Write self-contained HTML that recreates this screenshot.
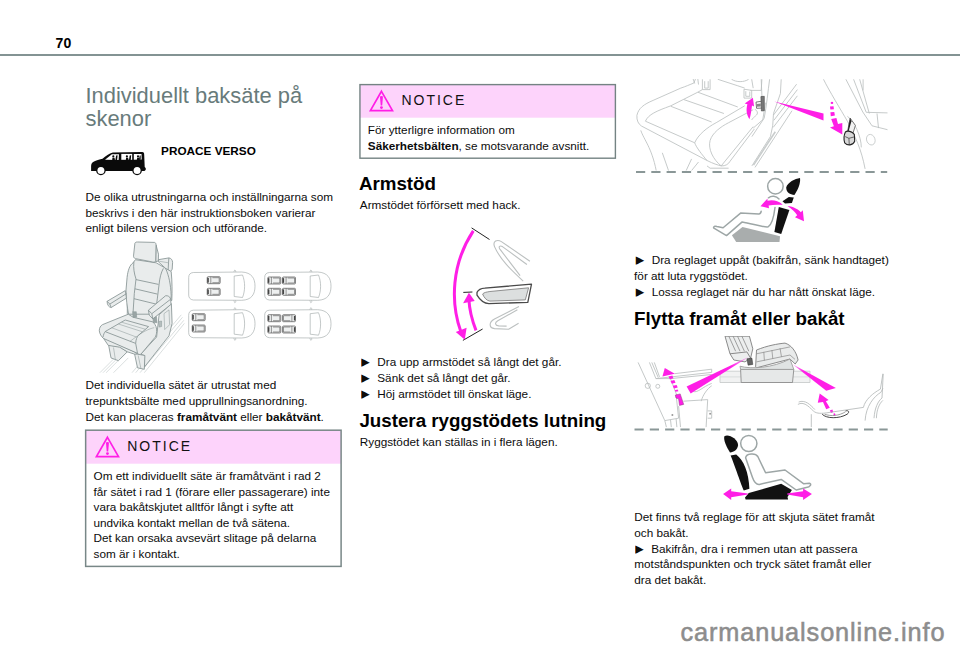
<!DOCTYPE html>
<html lang="sv"><head><meta charset="utf-8"><title>70</title>
<style>
html,body{margin:0;padding:0;background:#fff}
body{width:960px;height:649px;position:relative;overflow:hidden;font-family:"Liberation Sans","DejaVu Sans",sans-serif;color:#0c0c0c}
.t{position:absolute;white-space:nowrap;margin:0}
.a{position:absolute;display:block}
.bd{font-weight:bold;color:#000}
.ttl{color:#687b7b}
.ntc{letter-spacing:2px;color:#111}
.wm{color:#8d8d8d;-webkit-text-stroke:0.55px #8d8d8d}
.b{display:inline-block;width:16.9px;font-size:11px;font-family:"DejaVu Sans",sans-serif;position:relative;top:-0.8px;left:0.9px;transform:scaleY(1.5)}
.hl{position:absolute;left:0;top:53.8px;width:960px;height:2.1px;background:#839393}
</style></head><body>
<div class="hl"></div>
<svg class="a" style="left:0;top:0" width="960" height="649" viewBox="0 0 960 649">
<rect x="85.65" y="430.2" width="255.45" height="33.5" fill="#fdd3fb"/>
<rect x="85.65" y="430.2" width="255.45" height="136.2" fill="none" stroke="#788787" stroke-width="1.5"/>
<rect x="359.95" y="84.6" width="255.45" height="33.1" fill="#fdd3fb"/>
<rect x="359.95" y="84.6" width="255.45" height="73.6" fill="none" stroke="#748383" stroke-width="1.4"/>
</svg>
<svg class="a" style="left:93.7px;top:434.8px" width="27" height="24" viewBox="0 0 27 24"><path d="M13.45 2.3 L24.5 21.65 H2.4 Z" fill="none" stroke="#ff1ee6" stroke-width="1.7" stroke-linejoin="miter"/><path d="M11.95 7.6 q1.5 -1.3 3 0 l-.75 8.9 h-1.5 Z" fill="#ff1ee6"/><circle cx="13.45" cy="18.6" r="1.45" fill="#ff1ee6"/></svg>
<svg class="a" style="left:368px;top:89.2px" width="27" height="24" viewBox="0 0 27 24"><path d="M13.45 2.3 L24.5 21.65 H2.4 Z" fill="none" stroke="#ff1ee6" stroke-width="1.7" stroke-linejoin="miter"/><path d="M11.95 7.6 q1.5 -1.3 3 0 l-.75 8.9 h-1.5 Z" fill="#ff1ee6"/><circle cx="13.45" cy="18.6" r="1.45" fill="#ff1ee6"/></svg>
<svg class="a" style="left:0;top:0" width="960" height="649" viewBox="0 0 960 649">
<path d="M 91.1 171.0 L 91.1 166.2 C 91.3 162.3 93.8 160.7 102.5 158.8 C 105.8 156.3 109.0 153.2 112.8 152.5 L 142.3 152.1 C 143.8 152.2 144.2 153.2 144.2 154.7 L 144.7 167.1 C 146.3 167.9 146.3 170.7 144.2 171.1 Z" fill="#0a0a0a"/>
<circle cx="100.9" cy="170.4" r="4.83" fill="#0a0a0a"/>
<circle cx="100.9" cy="170.4" r="3.50" fill="#fff"/>
<circle cx="137.1" cy="170.4" r="4.83" fill="#0a0a0a"/>
<circle cx="137.1" cy="170.4" r="3.50" fill="#fff"/>
<path d="M 105.0 159.8 L 111.9 154.3 L 119.0 154.2 L 118.6 160.0 Z" fill="#fff"/>
<path d="M 121.3 153.9 L 132.2 153.9 L 132.2 159.8 L 121.3 159.8 Z" fill="#fff"/>
<path d="M 133.8 153.9 L 141.5 153.9 L 141.7 159.6 L 133.8 159.7 Z" fill="#fff"/>
<circle cx="113.3" cy="156.4" r="1.08" fill="#0a0a0a"/>
<path d="M 112.2 160.0 L 112.5 157.7 L 114.5 157.7 L 115.0 160.0 Z" fill="#0a0a0a"/>
<circle cx="126.9" cy="156.4" r="1.08" fill="#0a0a0a"/>
<path d="M 125.8 160.0 L 126.1 157.7 L 128.1 157.7 L 128.6 160.0 Z" fill="#0a0a0a"/>
<circle cx="138.0" cy="156.4" r="1.08" fill="#0a0a0a"/>
<path d="M 136.8 160.0 L 137.2 157.7 L 139.2 157.7 L 139.7 160.0 Z" fill="#0a0a0a"/>
<path d="M 116.1 155.4 L 117.6 155.2 L 117.1 160.0 L 115.4 160.0 Z" fill="#0a0a0a"/>
<path d="M 129.7 155.4 L 131.2 155.2 L 130.7 160.0 L 129.0 160.0 Z" fill="#0a0a0a"/>
<path d="M 139.7 155.4 L 140.7 155.4 L 140.7 159.7 L 139.0 159.7 Z" fill="#0a0a0a"/>
<path d="M 99.9 372.7 L 118.4 354.2" fill="none" stroke="#b5bebe" stroke-width="0.5" stroke-linejoin="round"/>
<path d="M 103.0 372.7 L 121.5 354.2" fill="none" stroke="#b5bebe" stroke-width="0.5" stroke-linejoin="round"/>
<path d="M 106.1 372.7 L 125.8 353.0" fill="none" stroke="#b5bebe" stroke-width="0.5" stroke-linejoin="round"/>
<path d="M 113.5 372.7 L 128.3 357.9" fill="none" stroke="#b5bebe" stroke-width="0.5" stroke-linejoin="round"/>
<path d="M 132.0 372.7 L 181.3 314.8" fill="none" stroke="#b5bebe" stroke-width="0.5" stroke-linejoin="round"/>
<path d="M 135.7 372.7 L 182.5 317.3" fill="none" stroke="#b5bebe" stroke-width="0.5" stroke-linejoin="round"/>
<path d="M 140.0 372.7 L 183.8 320.3" fill="none" stroke="#b5bebe" stroke-width="0.5" stroke-linejoin="round"/>
<path d="M 144.3 372.7 L 184.4 323.4" fill="none" stroke="#b5bebe" stroke-width="0.5" stroke-linejoin="round"/>
<path d="M 158.3 259.7 L 168.9 257.9 C 171.2 258.2 172.4 260.0 172.6 262.3 L 172.2 269.2 C 171.2 271.5 169.5 272.4 168.0 272.7 L 165.5 268.3 L 158.3 261.7 Z" fill="#e9ecec" stroke="#869494" stroke-width="0.85" stroke-linejoin="round"/>
<path d="M 168.0 272.7 L 168.5 262.8 L 168.9 257.9" fill="none" stroke="#869494" stroke-width="0.85" stroke-linejoin="round"/>
<path d="M 158.3 261.1 L 168.5 262.8" fill="none" stroke="#869494" stroke-width="0.5" stroke-linejoin="round"/>
<path d="M 165.5 268.3 L 171.2 271.5 C 172.2 281.9 172.2 291.1 171.8 300.4 L 164.3 302.7 Z" fill="#e9ecec" stroke="#869494" stroke-width="0.85" stroke-linejoin="round"/>
<path d="M 127.3 303.7 L 127.3 313.6 L 132.0 318.5 L 154.2 323.4 L 156.6 313.6 L 154.2 297.5 L 128.3 297.5 Z" fill="#e9ecec" stroke="none" stroke-width="0.85" stroke-linejoin="round"/>
<path d="M 127.3 303.7 L 127.3 313.6 L 132.0 318.5" fill="none" stroke="#869494" stroke-width="0.85" stroke-linejoin="round"/>
<path d="M 132.0 298.8 L 132.0 312.3" fill="none" stroke="#869494" stroke-width="0.5" stroke-linejoin="round"/>
<path d="M 153.9 307.4 L 152.9 317.3" fill="none" stroke="#869494" stroke-width="0.5" stroke-linejoin="round"/>
<path d="M 133.1 262.8 L 135.4 259.7 L 156.2 262.8 L 164.3 267.5 L 166.0 269.2 C 168.9 276.1 170.7 284.2 171.2 295.8 L 170.7 300.4 L 152.8 314.2 L 128.5 314.2 C 127.1 306.2 126.0 298.1 126.0 290.0 L 127.1 277.3 C 127.9 270.3 129.7 265.1 133.1 262.8 Z" fill="#e9ecec" stroke="#869494" stroke-width="0.85" stroke-linejoin="round"/>
<path d="M 133.9 261.7 C 133.1 268.0 134.3 273.8 136.0 279.0 L 134.3 293.5 L 133.1 311.9" fill="none" stroke="#869494" stroke-width="0.85" stroke-linejoin="round"/>
<path d="M 163.4 268.3 C 160.9 272.7 159.7 278.4 159.1 284.2 L 157.4 298.1 L 156.0 308.5" fill="none" stroke="#869494" stroke-width="0.85" stroke-linejoin="round"/>
<path d="M 136.0 279.6 L 158.5 284.4" fill="none" stroke="#869494" stroke-width="0.85" stroke-linejoin="round"/>
<path d="M 134.9 288.8 L 157.4 294.1" fill="none" stroke="#869494" stroke-width="0.85" stroke-linejoin="round"/>
<path d="M 134.0 298.7 L 156.2 304.1" fill="none" stroke="#869494" stroke-width="0.85" stroke-linejoin="round"/>
<path d="M 156.0 244.9 L 158.5 254.2 L 158.3 260.9 L 155.7 261.7 Z" fill="#e9ecec" stroke="#869494" stroke-width="0.85" stroke-linejoin="round"/>
<path d="M 134.9 243.2 C 135.4 242.0 136.6 242.0 137.7 242.0 L 154.5 242.4 C 155.7 242.6 156.0 243.8 156.0 244.9 L 155.7 261.1 C 155.1 262.0 153.9 262.3 152.8 262.0 L 135.4 258.6 C 134.0 258.2 133.5 257.1 133.5 255.9 Z" fill="#e9ecec" stroke="#869494" stroke-width="0.85" stroke-linejoin="round"/>
<path d="M 140.6 354.2 L 156.6 337.0 L 159.1 314.8 L 171.4 303.7 L 172.1 323.4 L 169.0 335.8 L 144.3 367.2 L 144.3 355.5 Z" fill="#e9ecec" stroke="#869494" stroke-width="0.85" stroke-linejoin="round"/>
<path d="M 164.0 313.6 L 169.0 309.9 L 169.6 324.7 L 164.7 329.6 Z" fill="#e9ecec" stroke="#869494" stroke-width="0.5" stroke-linejoin="round"/>
<path d="M 108.6 345.0 L 111.0 357.9 L 118.4 360.7 L 127.3 351.8 L 119.7 346.8 Z" fill="#e9ecec" stroke="#869494" stroke-width="0.85" stroke-linejoin="round"/>
<path d="M 113.5 347.5 L 115.3 359.2" fill="none" stroke="#869494" stroke-width="0.5" stroke-linejoin="round"/>
<path d="M 134.5 353.6 L 137.5 367.8 L 144.3 369.3 L 144.9 355.5 Z" fill="#e9ecec" stroke="#869494" stroke-width="0.85" stroke-linejoin="round"/>
<path d="M 138.2 355.5 L 140.9 368.4" fill="none" stroke="#869494" stroke-width="0.5" stroke-linejoin="round"/>
<path d="M 102.6 337.0 L 108.3 345.4 L 119.7 347.2 L 127.3 351.8 L 134.7 354.2 L 137.9 353.5 Z" fill="#e9ecec" stroke="#869494" stroke-width="0.85" stroke-linejoin="round"/>
<path d="M 99.3 330.8 C 99.3 327.7 100.5 325.9 102.4 324.7 L 128.3 314.2 L 133.2 317.3 L 152.9 321.9 C 156.0 324.7 156.9 328.4 156.6 331.4 C 156.6 333.9 156.0 335.8 155.2 337.2 L 140.9 354.2 C 139.4 354.9 138.2 354.2 137.5 353.3 L 103.6 338.5 C 101.2 336.4 99.7 333.9 99.3 330.8 Z" fill="#e9ecec" stroke="#869494" stroke-width="0.85" stroke-linejoin="round"/>
<path d="M 103.0 337.0 C 103.6 334.5 104.2 332.7 105.1 331.6 L 125.2 320.0 L 148.6 326.6" fill="none" stroke="#869494" stroke-width="0.85" stroke-linejoin="round"/>
<path d="M 105.1 331.6 L 135.7 343.4 C 135.9 339.5 136.9 337.0 138.2 335.5 L 148.6 326.6" fill="none" stroke="#869494" stroke-width="0.85" stroke-linejoin="round"/>
<path d="M 135.7 343.4 L 137.5 353.3" fill="none" stroke="#869494" stroke-width="0.85" stroke-linejoin="round"/>
<path d="M 138.2 335.5 C 144.3 330.8 150.5 328.4 154.2 327.7" fill="none" stroke="#869494" stroke-width="0.5" stroke-linejoin="round"/>
<path d="M 118.4 324.0 L 142.5 331.8" fill="none" stroke="#869494" stroke-width="0.5" stroke-linejoin="round"/>
<path d="M 121.5 322.2 L 145.5 329.3" fill="none" stroke="#869494" stroke-width="0.5" stroke-linejoin="round"/>
<path d="M 111.6 327.7 L 136.3 337.0" fill="none" stroke="#869494" stroke-width="0.5" stroke-linejoin="round"/>
<path d="M 130.1 341.3 L 137.5 335.8" fill="none" stroke="#869494" stroke-width="0.5" stroke-linejoin="round"/>
<path d="M 132.6 311.7 L 136.3 311.7 L 136.7 317.3 L 133.0 317.3 Z" fill="#9aa5a5" stroke="#869494" stroke-width="0.5" stroke-linejoin="round"/>
<path d="M 152.9 316.6 L 156.6 316.6 L 157.0 322.8 L 153.3 322.8 Z" fill="#9aa5a5" stroke="#869494" stroke-width="0.5" stroke-linejoin="round"/>
<path d="M 158.5 321.6 L 161.6 321.0 L 161.6 326.5 L 159.1 327.1 Z" fill="#b5bebe" stroke="#869494" stroke-width="0.5" stroke-linejoin="round"/>
<path d="M 107.1 301.3 L 125.3 290.6 L 126.4 298.1 L 111.2 307.5 C 108.9 307.3 107.1 305.0 107.1 301.3 Z" fill="#e9ecec" stroke="#869494" stroke-width="0.85" stroke-linejoin="round"/>
<path d="M 107.1 301.3 L 109.8 304.1 L 126.4 293.7" fill="none" stroke="#869494" stroke-width="0.85" stroke-linejoin="round"/>
<path d="M 109.8 304.1 L 111.2 307.5" fill="none" stroke="#869494" stroke-width="0.85" stroke-linejoin="round"/>
<path d="M 148.4 310.2 L 165.5 295.8 C 167.8 295.2 170.1 296.9 170.7 299.2 L 171.0 304.4 L 152.8 318.9 L 149.3 315.2 Z" fill="#e9ecec" stroke="#869494" stroke-width="0.85" stroke-linejoin="round"/>
<path d="M 148.4 310.2 L 151.8 313.7 L 170.7 299.2" fill="none" stroke="#869494" stroke-width="0.85" stroke-linejoin="round"/>
<path d="M 151.8 313.7 L 152.8 318.9" fill="none" stroke="#869494" stroke-width="0.85" stroke-linejoin="round"/>
<path d="M 193.3 272.5 L 241.7 272.0 C 251.7 272.5 255.0 278.3 255.0 286.2 C 255.0 294.2 251.7 300.0 241.7 300.3 L 193.3 300.0 C 190.0 299.7 188.7 297.5 188.7 295.0 L 188.7 277.5 C 188.7 274.7 190.0 272.8 193.3 272.5 Z" fill="#fff" stroke="#a9b0b0" stroke-width="0.7"/>
<path d="M 234.2 276.0 L 242.5 275.0 C 245.3 281.7 245.3 290.8 242.5 297.5 L 234.2 296.5 Z" fill="#fff" stroke="#a9b0b0" stroke-width="0.7"/>
<path d="M 233.8 272.0 L 234.7 270.0 L 236.0 271.0 L 235.5 272.0 M 233.8 300.3 L 234.7 302.7 L 236.0 301.7 L 235.5 300.3" fill="none" stroke="#a9b0b0" stroke-width="0.6"/>
<rect x="207.2" y="276.7" width="13.0" height="7.0" rx="1" fill="#eef0f0" stroke="#555" stroke-width="0.7"/>
<path d="M207.7,277.3 v5.8 M210.8,276.7 v7.0 M212.4,277.7 h6.8 v5.0 h-6.8" fill="none" stroke="#555" stroke-width="0.6"/>
<path d="M208.1,277.9 v4.6" stroke="#444" stroke-width="1.4"/>
<rect x="207.2" y="288.3" width="13.0" height="7.0" rx="1" fill="#eef0f0" stroke="#555" stroke-width="0.7"/>
<path d="M207.7,288.9 v5.8 M210.8,288.3 v7.0 M212.4,289.3 h6.8 v5.0 h-6.8" fill="none" stroke="#555" stroke-width="0.6"/>
<path d="M208.1,289.5 v4.6" stroke="#444" stroke-width="1.4"/>
<path d="M 269.3 272.5 L 317.7 272.0 C 327.7 272.5 331.0 278.3 331.0 286.2 C 331.0 294.2 327.7 300.0 317.7 300.3 L 269.3 300.0 C 266.0 299.7 264.7 297.5 264.7 295.0 L 264.7 277.5 C 264.7 274.7 266.0 272.8 269.3 272.5 Z" fill="#fff" stroke="#a9b0b0" stroke-width="0.7"/>
<path d="M 310.2 276.0 L 318.5 275.0 C 321.3 281.7 321.3 290.8 318.5 297.5 L 310.2 296.5 Z" fill="#fff" stroke="#a9b0b0" stroke-width="0.7"/>
<path d="M 309.8 272.0 L 310.7 270.0 L 312.0 271.0 L 311.5 272.0 M 309.8 300.3 L 310.7 302.7 L 312.0 301.7 L 311.5 300.3" fill="none" stroke="#a9b0b0" stroke-width="0.6"/>
<rect x="267.8" y="277.0" width="13.0" height="7.0" rx="1" fill="#eef0f0" stroke="#555" stroke-width="0.7"/>
<path d="M268.3,277.6 v5.8 M271.4,277.0 v7.0 M273.0,278.0 h6.8 v5.0 h-6.8" fill="none" stroke="#555" stroke-width="0.6"/>
<path d="M268.7,278.2 v4.6" stroke="#444" stroke-width="1.4"/>
<rect x="267.8" y="288.3" width="13.0" height="7.0" rx="1" fill="#eef0f0" stroke="#555" stroke-width="0.7"/>
<path d="M268.3,288.9 v5.8 M271.4,288.3 v7.0 M273.0,289.3 h6.8 v5.0 h-6.8" fill="none" stroke="#555" stroke-width="0.6"/>
<path d="M268.7,289.5 v4.6" stroke="#444" stroke-width="1.4"/>
<rect x="282.5" y="277.0" width="13.0" height="7.0" rx="1" fill="#eef0f0" stroke="#555" stroke-width="0.7"/>
<path d="M283.0,277.6 v5.8 M286.1,277.0 v7.0 M287.7,278.0 h6.8 v5.0 h-6.8" fill="none" stroke="#555" stroke-width="0.6"/>
<path d="M283.4,278.2 v4.6" stroke="#444" stroke-width="1.4"/>
<rect x="282.5" y="288.3" width="13.0" height="7.0" rx="1" fill="#eef0f0" stroke="#555" stroke-width="0.7"/>
<path d="M283.0,288.9 v5.8 M286.1,288.3 v7.0 M287.7,289.3 h6.8 v5.0 h-6.8" fill="none" stroke="#555" stroke-width="0.6"/>
<path d="M283.4,289.5 v4.6" stroke="#444" stroke-width="1.4"/>
<path d="M 193.3 310.2 L 241.7 309.7 C 251.7 310.2 255.0 316.0 255.0 323.8 C 255.0 331.8 251.7 337.7 241.7 338.0 L 193.3 337.7 C 190.0 337.3 188.7 335.2 188.7 332.7 L 188.7 315.2 C 188.7 312.3 190.0 310.5 193.3 310.2 Z" fill="#fff" stroke="#a9b0b0" stroke-width="0.7"/>
<path d="M 234.2 313.7 L 242.5 312.7 C 245.3 319.3 245.3 328.5 242.5 335.2 L 234.2 334.2 Z" fill="#fff" stroke="#a9b0b0" stroke-width="0.7"/>
<path d="M 233.8 309.7 L 234.7 307.7 L 236.0 308.7 L 235.5 309.7 M 233.8 338.0 L 234.7 340.3 L 236.0 339.3 L 235.5 338.0" fill="none" stroke="#a9b0b0" stroke-width="0.6"/>
<rect x="192.2" y="313.7" width="13.0" height="7.0" rx="1" fill="#eef0f0" stroke="#555" stroke-width="0.7"/>
<path d="M192.7,314.3 v5.8 M195.8,313.7 v7.0 M197.4,314.7 h6.8 v5.0 h-6.8" fill="none" stroke="#555" stroke-width="0.6"/>
<path d="M193.1,314.9 v4.6" stroke="#444" stroke-width="1.4"/>
<rect x="192.2" y="325.0" width="13.0" height="7.0" rx="1" fill="#eef0f0" stroke="#555" stroke-width="0.7"/>
<path d="M192.7,325.6 v5.8 M195.8,325.0 v7.0 M197.4,326.0 h6.8 v5.0 h-6.8" fill="none" stroke="#555" stroke-width="0.6"/>
<path d="M193.1,326.2 v4.6" stroke="#444" stroke-width="1.4"/>
<path d="M 269.3 310.2 L 317.7 309.7 C 327.7 310.2 331.0 316.0 331.0 323.8 C 331.0 331.8 327.7 337.7 317.7 338.0 L 269.3 337.7 C 266.0 337.3 264.7 335.2 264.7 332.7 L 264.7 315.2 C 264.7 312.3 266.0 310.5 269.3 310.2 Z" fill="#fff" stroke="#a9b0b0" stroke-width="0.7"/>
<path d="M 310.2 313.7 L 318.5 312.7 C 321.3 319.3 321.3 328.5 318.5 335.2 L 310.2 334.2 Z" fill="#fff" stroke="#a9b0b0" stroke-width="0.7"/>
<path d="M 309.8 309.7 L 310.7 307.7 L 312.0 308.7 L 311.5 309.7 M 309.8 338.0 L 310.7 340.3 L 312.0 339.3 L 311.5 338.0" fill="none" stroke="#a9b0b0" stroke-width="0.6"/>
<rect x="267.8" y="314.7" width="13.0" height="7.0" rx="1" fill="#eef0f0" stroke="#555" stroke-width="0.7"/>
<path d="M268.3,315.3 v5.8 M271.4,314.7 v7.0 M273.0,315.7 h6.8 v5.0 h-6.8" fill="none" stroke="#555" stroke-width="0.6"/>
<path d="M268.7,315.9 v4.6" stroke="#444" stroke-width="1.4"/>
<rect x="267.8" y="326.0" width="13.0" height="7.0" rx="1" fill="#eef0f0" stroke="#555" stroke-width="0.7"/>
<path d="M268.3,326.6 v5.8 M271.4,326.0 v7.0 M273.0,327.0 h6.8 v5.0 h-6.8" fill="none" stroke="#555" stroke-width="0.6"/>
<path d="M268.7,327.2 v4.6" stroke="#444" stroke-width="1.4"/>
<rect x="282.5" y="314.7" width="13.0" height="7.0" rx="1" fill="#eef0f0" stroke="#555" stroke-width="0.7"/>
<path d="M291.9,314.7 v7.0 M290.3,315.7 h-6.8 v5.0 h6.8" fill="none" stroke="#555" stroke-width="0.6"/>
<path d="M294.6,315.9 v4.6" stroke="#444" stroke-width="1.4"/>
<rect x="282.5" y="326.0" width="13.0" height="7.0" rx="1" fill="#eef0f0" stroke="#555" stroke-width="0.7"/>
<path d="M291.9,326.0 v7.0 M290.3,327.0 h-6.8 v5.0 h6.8" fill="none" stroke="#555" stroke-width="0.6"/>
<path d="M294.6,327.2 v4.6" stroke="#444" stroke-width="1.4"/>
<path d="M 529.9 261.2 L 501.4 241.6 C 497.2 239.1 492.4 241.0 494.5 246.6 C 500.3 259.7 510.7 269.5 523.2 281.1" fill="none" stroke="#bcc0c0" stroke-width="1.1" stroke-linecap="butt" stroke-linejoin="round" />
<path d="M 526.9 264.5 L 502.4 246.6 C 499.9 245.2 498.2 246.6 499.9 249.1 L 520.1 275.7" fill="none" stroke="#bcc0c0" stroke-width="1.1" stroke-linecap="butt" stroke-linejoin="round" />
<path d="M 519.0 306.5 L 494.5 319.0 C 488.3 322.5 489.1 327.9 494.5 328.6 L 508.6 329.2 L 518.6 323.2" fill="none" stroke="#bcc0c0" stroke-width="1.1" stroke-linecap="butt" stroke-linejoin="round" />
<path d="M 517.4 309.8 L 497.8 320.7 C 494.5 322.7 494.9 325.4 498.7 325.9 L 506.6 326.1" fill="none" stroke="#bcc0c0" stroke-width="1.1" stroke-linecap="butt" stroke-linejoin="round" />
<path d="M 477.0 292.4 C 478.5 289.5 481.6 288.4 484.7 288.2 L 531.5 284.1 L 527.8 302.4 L 488.9 303.6 C 483.7 303.4 479.5 299.2 477.0 295.1 Z" fill="#fff" stroke="#4a4a4a" stroke-width="1.3" stroke-linecap="butt" stroke-linejoin="round" />
<path d="M 482.6 294.0 C 484.1 292.4 486.8 292.0 489.9 291.5 L 528.6 287.8 L 525.3 299.9 L 489.9 301.1 C 486.8 300.7 484.1 297.8 482.6 294.0 Z" fill="#dcdfdf" stroke="#777" stroke-width="0.8" stroke-linecap="butt" stroke-linejoin="round" />
<path d="M 471.6 227.9 L 489.5 239.5" fill="none" stroke="#222" stroke-width="1" stroke-linecap="butt" stroke-linejoin="round" />
<path d="M 462.9 340.4 L 482.6 329.0" fill="none" stroke="#222" stroke-width="1" stroke-linecap="butt" stroke-linejoin="round" />
<path d="M 463.3 292.4 L 472.4 292.0" fill="none" stroke="#222" stroke-width="1" stroke-linecap="butt" stroke-linejoin="round" />
<path d="M 473.3 230.8 C 451.4 263.9 450.4 302.4 460.8 331.5" fill="none" stroke="#ff1ee6" stroke-width="3" stroke-linecap="butt" stroke-linejoin="round" />
<path d="M 455.8 331.9 L 466.6 327.7 L 464.8 339.8 Z" fill="#ff1ee6" stroke="none" stroke-width="1.1" stroke-linecap="butt" stroke-linejoin="round" />
<path d="M 476.0 330.4 C 471.6 319.0 469.3 308.6 468.9 299.2" fill="none" stroke="#ff1ee6" stroke-width="3" stroke-linecap="butt" stroke-linejoin="round" />
<path d="M 463.1 303.2 L 468.9 292.8 L 474.7 300.9 Z" fill="#ff1ee6" stroke="none" stroke-width="1.1" stroke-linecap="butt" stroke-linejoin="round" />
<path d="M636.0,171.9 H887.2" stroke="#8a9797" stroke-width="2" stroke-dasharray="9.2 6.1" fill="none"/>
<path d="M634.5,429.6 H887.7" stroke="#8a9797" stroke-width="2" stroke-dasharray="9.2 6.1" fill="none"/>
<path d="M 731.9 235.2 L 742.5 226.9 L 780.0 236.2 L 779.5 242.0 L 736.2 242.0 Z" fill="#a9adad" stroke="none" stroke-width="1" stroke-linejoin="round" stroke-linecap="round"/>
<circle cx="775.4" cy="186.2" r="7.75" fill="#fff" stroke="#9da6a6" stroke-width="1.5"/>
<path d="M 768.5 197.8 C 771.2 195.6 776.2 195.6 779.0 199.0 M 775.0 207.5 C 773.8 217.5 771.2 225.0 768.1 226.9 C 765.0 227.8 752.5 223.8 742.2 221.9 L 726.5 235.6 L 713.5 227.8 C 713.8 226.0 715.6 226.0 716.9 226.5 L 723.1 227.8 L 740.6 213.1 L 758.8 214.0 C 760.0 214.0 761.0 213.1 761.2 211.2" fill="none" stroke="#9da6a6" stroke-width="1.5" stroke-linejoin="round" stroke-linecap="round"/>
<path d="M 800.0 178.1 C 795.0 178.8 787.5 182.5 786.2 187.5 C 786.2 192.5 790.0 194.4 794.4 195.0 C 798.8 188.8 800.6 182.5 800.0 178.1 Z" fill="#111" stroke="none" stroke-width="1" stroke-linejoin="round" stroke-linecap="round"/>
<path d="M 782.5 201.2 L 788.8 196.9 L 793.8 197.5 L 791.9 203.1 L 785.0 203.5 Z" fill="#111" stroke="none" stroke-width="1" stroke-linejoin="round" stroke-linecap="round"/>
<path d="M 778.8 206.9 L 789.4 210.0 L 781.2 234.0 L 774.4 232.0 Z" fill="#111" stroke="none" stroke-width="1" stroke-linejoin="round" stroke-linecap="round"/>
<path d="M 782.8 204.8 C 777.5 200.0 771.9 199.8 767.5 200.8 L 767.5 198.5 L 760.5 206.2 L 769.0 208.2 L 768.6 205.5 C 773.1 204.5 777.5 204.8 782.8 204.8 Z" fill="#ff1ee6" stroke="none" stroke-width="1" stroke-linejoin="round" stroke-linecap="round"/>
<path d="M 787.5 206.0 C 793.8 206.5 798.8 209.8 800.8 212.2 L 802.8 210.2 L 804.0 221.2 L 795.0 217.2 L 797.2 215.2 C 795.0 211.9 791.9 209.0 787.5 206.0 Z" fill="#ff1ee6" stroke="none" stroke-width="1" stroke-linejoin="round" stroke-linecap="round"/>
<path d="M 724.4 436.2 C 728.8 433.8 737.5 438.8 738.1 445.0 C 737.5 450.0 733.8 451.9 730.0 452.5 C 726.9 447.5 723.1 440.0 724.4 436.2 Z" fill="#111" stroke="none" stroke-width="1" stroke-linejoin="round" stroke-linecap="round"/>
<path d="M 730.6 455.6 L 736.2 454.4 C 743.8 460.0 748.8 472.5 749.4 488.8 L 743.8 490.6 C 741.2 485.0 735.0 466.2 730.6 455.6 Z" fill="#111" stroke="none" stroke-width="1" stroke-linejoin="round" stroke-linecap="round"/>
<path d="M 748.8 493.1 L 781.2 483.8 L 791.9 490.0 L 787.5 496.9 L 788.1 499.5 L 745.6 499.5 L 745.0 497.5 Z" fill="#111" stroke="none" stroke-width="1" stroke-linejoin="round" stroke-linecap="round"/>
<circle cx="748.8" cy="443.5" r="8.12" fill="#fff" stroke="#9da6a6" stroke-width="1.5"/>
<path d="M 745.6 457.8 C 746.2 453.1 755.6 452.8 757.8 456.5 L 765.6 472.8 L 785.0 470.0 L 803.8 483.8 L 809.4 483.2 C 811.9 483.8 810.6 487.2 806.2 487.5 L 796.2 490.0 L 781.2 479.4 L 759.4 484.4 C 755.6 484.8 753.8 481.2 752.5 477.5 Z" fill="#fff" stroke="#9da6a6" stroke-width="1.5" stroke-linejoin="round" stroke-linecap="round"/>
<path d="M 723.1 494.1 L 731.2 488.5 L 731.2 491.2 L 747.8 493.4 L 747.8 494.6 L 731.2 497.2 L 731.2 500.0 Z" fill="#ff1ee6" stroke="none" stroke-width="1" stroke-linejoin="round" stroke-linecap="round"/>
<path d="M 811.9 494.1 L 803.1 488.5 L 803.1 491.2 L 787.2 493.4 L 787.2 494.6 L 803.1 497.2 L 803.1 500.0 Z" fill="#ff1ee6" stroke="none" stroke-width="1" stroke-linejoin="round" stroke-linecap="round"/>
<clipPath id="c3a"><rect x="634" y="79" width="257" height="92"/></clipPath><g clip-path="url(#c3a)">
<path d="M 636.9 115.4 C 638.5 108.1 643.9 104.3 653.1 100.4 L 680.8 88.1 C 685.4 86.6 690.1 84.5 693.9 83.0 L 695.5 78.9" fill="none" stroke="#bcc1c1" stroke-width="0.85" stroke-linejoin="round" />
<path d="M 636.9 115.4 C 636.5 120.4 638.5 124.3 641.6 126.1 L 707.0 160.5 C 713.2 163.6 717.8 165.1 721.2 165.9 L 753.2 126.6" fill="none" stroke="#bcc1c1" stroke-width="0.85" stroke-linejoin="round" />
<path d="M 645.4 121.2 C 648.5 114.3 656.2 111.2 670.8 105.8 L 697.8 92.2 L 702.4 89.6" fill="none" stroke="#bcc1c1" stroke-width="0.85" stroke-linejoin="round" />
<path d="M 645.4 121.2 L 694.7 142.8" fill="none" stroke="#bcc1c1" stroke-width="0.85" stroke-linejoin="round" />
<path d="M 670.8 106.3 L 711.6 122.0" fill="none" stroke="#bcc1c1" stroke-width="0.85" stroke-linejoin="round" />
<path d="M 683.9 99.6 L 723.9 113.5" fill="none" stroke="#bcc1c1" stroke-width="0.85" stroke-linejoin="round" />
<path d="M 697.8 92.2 L 737.8 107.0" fill="none" stroke="#bcc1c1" stroke-width="0.85" stroke-linejoin="round" />
<path d="M 694.7 142.8 C 697.8 135.1 707.0 127.4 716.2 122.7 L 744.7 105.8" fill="none" stroke="#bcc1c1" stroke-width="0.85" stroke-linejoin="round" />
<path d="M 694.7 142.8 C 696.2 147.4 702.4 155.1 707.0 160.5" fill="none" stroke="#bcc1c1" stroke-width="0.85" stroke-linejoin="round" />
<path d="M 710.1 140.5 C 712.4 132.8 720.9 126.6 728.6 122.7 L 753.2 109.7" fill="none" stroke="#bcc1c1" stroke-width="0.85" stroke-linejoin="round" />
<path d="M 710.1 140.5 C 707.8 148.9 713.2 159.7 721.2 165.9" fill="none" stroke="#bcc1c1" stroke-width="0.85" stroke-linejoin="round" />
<path d="M 640.8 130.4 C 643.9 139.7 651.6 147.4 656.2 170.5" fill="none" stroke="#bcc1c1" stroke-width="0.85" stroke-linejoin="round" />
<path d="M 662.3 152.8 L 668.5 170.5" fill="none" stroke="#bcc1c1" stroke-width="0.85" stroke-linejoin="round" />
<path d="M 691.6 158.9 L 686.2 170.5" fill="none" stroke="#bcc1c1" stroke-width="0.85" stroke-linejoin="round" />
<path d="M 698.5 162.0 L 691.6 170.5" fill="none" stroke="#bcc1c1" stroke-width="0.85" stroke-linejoin="round" />
<path d="M 721.2 165.9 C 725.5 166.2 728.6 164.0 730.1 161.2 L 754.4 128.9" fill="none" stroke="#bcc1c1" stroke-width="0.85" stroke-linejoin="round" />
<path d="M 707.0 165.9 L 710.1 168.2 L 728.6 168.2" fill="none" stroke="#bcc1c1" stroke-width="0.85" stroke-linejoin="round" />
<path d="M 693.1 78.9 L 694.7 83.5" fill="none" stroke="#bcc1c1" stroke-width="0.85" stroke-linejoin="round" />
<path d="M 697.8 78.9 L 698.5 84.5" fill="none" stroke="#bcc1c1" stroke-width="0.85" stroke-linejoin="round" />
<path d="M 702.4 79.3 L 702.4 89.6 L 710.1 89.6 L 710.1 79.3" fill="none" stroke="#bcc1c1" stroke-width="0.85" stroke-linejoin="round" />
<path d="M 704.7 81.2 L 704.7 88.1 L 708.2 88.1 L 708.2 81.2" fill="none" stroke="#bcc1c1" stroke-width="0.85" stroke-linejoin="round" />
<path d="M 717.8 79.3 L 737.8 85.8 L 744.7 88.1" fill="none" stroke="#bcc1c1" stroke-width="0.85" stroke-linejoin="round" />
<path d="M 731.6 79.3 C 736.3 82.4 744.0 82.4 748.6 79.3" fill="none" stroke="#bcc1c1" stroke-width="0.85" stroke-linejoin="round" />
<path d="M 751.7 79.3 L 753.2 88.1" fill="none" stroke="#bcc1c1" stroke-width="0.85" stroke-linejoin="round" />
<path d="M 761.2 79.3 L 762.0 98.1" fill="none" stroke="#bcc1c1" stroke-width="0.85" stroke-linejoin="round" />
<path d="M 744.0 89.2 L 744.0 98.1 L 751.7 98.1 L 751.7 90.4 Z" fill="none" stroke="#bcc1c1" stroke-width="0.85" stroke-linejoin="round" />
<path d="M 745.8 91.2 L 745.8 96.3 L 749.8 96.3 L 749.8 91.6" fill="none" stroke="#bcc1c1" stroke-width="0.85" stroke-linejoin="round" />
<path d="M 751.7 120.0 C 753.2 116.6 758.6 115.4 757.2 111.7 L 755.1 109.2" fill="none" stroke="#bcc1c1" stroke-width="0.85" stroke-linejoin="round" />
<path d="M 765.5 102.7 L 762.8 119.7 L 753.2 128.1" fill="none" stroke="#bcc1c1" stroke-width="0.85" stroke-linejoin="round" />
<path d="M 756.0 102.1 L 762.1 101.2 L 762.5 108.0 L 756.6 108.3 Z" fill="#fff" stroke="#555" stroke-width="0.8" stroke-linejoin="round" />
<path d="M 760.9 96.6 L 764.3 96.3 L 764.3 110.7 L 761.4 111.0 Z" fill="#777" stroke="#444" stroke-width="0.6" stroke-linejoin="round" />
<path d="M 756.6 104.0 L 760.9 103.6 L 760.9 106.6 L 756.9 106.7 Z" fill="#888" stroke="none" stroke-width="0.85" stroke-linejoin="round" />
<path d="M 749.4 119.2 C 745.8 113.5 746.3 108.1 747.4 104.3 L 744.7 103.6 L 752.9 97.8 L 754.1 106.6 L 752.0 105.5 C 751.4 110.4 750.9 115.0 749.4 119.2 Z" fill="#ff1ee6" stroke="none" stroke-width="0.85" stroke-linejoin="round" />
<path d="M 750.4 90.4 L 761.2 90.4 L 761.9 79.3" fill="none" stroke="#bcc1c1" stroke-width="0.85" stroke-linejoin="round" />
<path d="M 769.6 79.3 C 768.1 90.4 766.6 105.8 764.2 118.1 L 751.9 136.6" fill="none" stroke="#bcc1c1" stroke-width="0.85" stroke-linejoin="round" />
<path d="M 781.2 79.3 L 780.4 93.5 L 773.5 113.5 L 772.7 125.8 L 770.4 136.6 L 751.9 165.9" fill="none" stroke="#bcc1c1" stroke-width="0.85" stroke-linejoin="round" />
<path d="M 796.6 84.2 L 773.5 115.0" fill="none" stroke="#bcc1c1" stroke-width="0.85" stroke-linejoin="round" />
<path d="M 797.4 89.6 L 773.8 120.4" fill="none" stroke="#bcc1c1" stroke-width="0.85" stroke-linejoin="round" />
<path d="M 797.4 95.8 L 773.2 127.4" fill="none" stroke="#bcc1c1" stroke-width="0.85" stroke-linejoin="round" />
<path d="M 792.0 110.7 L 755.0 167.4" fill="none" stroke="#bcc1c1" stroke-width="0.85" stroke-linejoin="round" />
<path d="M 823.5 79.3 C 828.9 90.4 841.2 110.4 847.4 121.2 C 855.1 136.6 861.3 148.9 865.1 168.9" fill="none" stroke="#bcc1c1" stroke-width="0.85" stroke-linejoin="round" />
<path d="M 845.9 79.3 L 862.8 112.0 L 872.0 125.8 L 887.5 129.7" fill="none" stroke="#bcc1c1" stroke-width="0.85" stroke-linejoin="round" />
<path d="M 853.6 79.3 L 866.2 112.3 L 887.5 112.9" fill="none" stroke="#bcc1c1" stroke-width="0.85" stroke-linejoin="round" />
<path d="M 859.7 79.3 L 869.3 113.5" fill="none" stroke="#bcc1c1" stroke-width="0.85" stroke-linejoin="round" />
<path d="M 863.1 79.3 L 863.1 90.4" fill="none" stroke="#bcc1c1" stroke-width="0.85" stroke-linejoin="round" />
<path d="M 877.0 113.5 L 878.5 128.1" fill="none" stroke="#bcc1c1" stroke-width="0.85" stroke-linejoin="round" />
<path d="M 847.4 116.3 C 854.3 121.2 861.3 136.6 861.3 147.4" fill="none" stroke="#bcc1c1" stroke-width="0.85" stroke-linejoin="round" />
<path d="M 775.3 131.7 L 753.5 165.1" fill="none" stroke="#c9cdcd" stroke-width="1.6" stroke-linejoin="round" />
<ellipse cx="870.8" cy="139.7" rx="4.2" ry="5.4" fill="none" stroke="#bcc1c1" stroke-width="0.7" transform="rotate(-20 870.8 139.7)"/>
<path d="M 774.3 101.5 L 823.5 113.5 L 823.5 120.6 Z" fill="#ff1ee6" stroke="none" stroke-width="0.85" stroke-linejoin="round" />
<path d="M 830.8 101.9 L 833.1 101.9 L 833.1 103.9 L 830.8 103.9 Z" fill="#ff1ee6" stroke="none" stroke-width="0.85" stroke-linejoin="round" />
<path d="M 830.0 106.6 L 833.5 106.2 L 833.9 109.3 L 830.4 109.6 Z" fill="#ff1ee6" stroke="none" stroke-width="0.85" stroke-linejoin="round" />
<path d="M 830.4 112.3 L 834.3 111.9 L 834.9 115.4 L 830.8 116.2 Z" fill="#ff1ee6" stroke="none" stroke-width="0.85" stroke-linejoin="round" />
<path d="M 831.2 119.0 L 836.4 118.1 L 838.0 124.1 L 842.3 123.1 L 842.3 134.4 L 830.0 127.5 L 833.9 126.2 Z" fill="#ff1ee6" stroke="none" stroke-width="0.85" stroke-linejoin="round" />
<path d="M 850.1 118.1 L 855.4 125.4 L 853.1 132.8 L 847.7 130.8 Z" fill="#f2f2f2" stroke="#444" stroke-width="0.7" stroke-linejoin="round" />
<path d="M 850.1 118.1 L 851.4 121.2 L 848.7 131.1 L 847.7 130.8 Z" fill="#222" stroke="none" stroke-width="0.85" stroke-linejoin="round" />
<path d="M 845.4 132.0 C 847.4 130.4 852.0 131.2 854.3 134.3 L 854.7 141.2 C 852.8 145.8 847.4 145.8 844.7 142.8 C 843.5 138.9 843.9 135.1 845.4 132.0 Z" fill="#d8d8d8" stroke="#222" stroke-width="1.1" stroke-linejoin="round" />
<path d="M 845.2 136.6 L 848.9 138.3 L 853.9 137.0 M 848.9 138.3 L 849.3 144.7" fill="none" stroke="#333" stroke-width="0.7" stroke-linejoin="round" />
</g>
<clipPath id="c3b"><rect x="634" y="336" width="257" height="92"/></clipPath><g clip-path="url(#c3b)">
<path d="M 720.0 371.2 L 810.0 371.2 L 810.0 382.5 L 720.0 382.5 Z" fill="#f1f2f2" stroke="#c6caca" stroke-width="0.85" stroke-linejoin="round" />
<path d="M 720.0 376.9 L 810.0 376.9" fill="none" stroke="#d5d8d8" stroke-width="0.85" stroke-linejoin="round" />
<path d="M 740.6 369.4 L 793.8 369.4 L 792.5 382.5 L 741.2 382.5 Z" fill="#e6e8e8" stroke="#888" stroke-width="0.85" stroke-linejoin="round" />
<path d="M 725.0 336.2 L 749.4 336.2 L 752.8 348.8 L 750.6 358.1 L 745.0 361.9 L 733.8 360.0 L 730.0 353.8 Z" fill="#eceeee" stroke="#777" stroke-width="0.85" stroke-linejoin="round" />
<path d="M 728.8 336.2 L 735.6 351.2" fill="none" stroke="#8a8a8a" stroke-width="0.8" stroke-linejoin="round" />
<path d="M 733.1 336.2 L 740.0 351.2" fill="none" stroke="#8a8a8a" stroke-width="0.8" stroke-linejoin="round" />
<path d="M 737.5 336.2 L 744.4 351.2" fill="none" stroke="#8a8a8a" stroke-width="0.8" stroke-linejoin="round" />
<path d="M 741.9 336.2 L 748.8 351.2" fill="none" stroke="#8a8a8a" stroke-width="0.8" stroke-linejoin="round" />
<path d="M 730.0 353.8 L 746.9 351.9 L 750.6 358.1" fill="none" stroke="#777" stroke-width="0.85" stroke-linejoin="round" />
<path d="M 755.6 366.9 L 756.5 350.0 C 767.5 345.6 777.5 343.8 785.0 343.1 C 791.2 345.0 796.2 351.2 798.1 360.0 L 795.2 364.0 L 790.0 359.0 L 756.5 367.8 Z" fill="#e9ebeb" stroke="#777" stroke-width="0.85" stroke-linejoin="round" />
<path d="M 756.5 353.8 L 790.0 346.9 M 763.8 351.9 L 764.4 360.6 M 771.9 350.0 L 772.8 358.8 M 780.0 348.1 L 781.5 356.9 M 756.5 361.9 L 790.0 355.0 L 795.0 359.4" fill="none" stroke="#8a8a8a" stroke-width="0.7" stroke-linejoin="round" />
<path d="M 740.0 366.2 C 751.2 369.4 772.5 368.1 790.0 359.0 L 793.8 369.4 L 740.6 369.4 Z" fill="#e0e3e3" stroke="#999" stroke-width="0.85" stroke-linejoin="round" />
<path d="M 746.9 358.8 L 751.9 358.1 L 752.8 364.4 L 748.1 365.2 Z" fill="#666" stroke="#333" stroke-width="0.5" stroke-linejoin="round" />
<path d="M 638.1 362.4 L 664.8 420.6 L 678.6 418.2 L 676.1 394.7" fill="none" stroke="#b9bebe" stroke-width="0.85" stroke-linejoin="round" />
<path d="M 649.4 362.4 L 655.9 378.6 L 670.5 378.6 L 676.9 395.5" fill="none" stroke="#b9bebe" stroke-width="0.85" stroke-linejoin="round" />
<path d="M 651.8 362.4 L 658.3 377.7" fill="none" stroke="#b9bebe" stroke-width="0.85" stroke-linejoin="round" />
<path d="M 654.3 362.4 L 659.5 376.9" fill="none" stroke="#b9bebe" stroke-width="0.85" stroke-linejoin="round" />
<path d="M 655.9 378.6 L 711.7 372.4 L 711.7 369.2 L 674.5 373.7" fill="none" stroke="#b9bebe" stroke-width="0.85" stroke-linejoin="round" />
<path d="M 670.5 378.6 L 711.7 374.5" fill="none" stroke="#b9bebe" stroke-width="0.85" stroke-linejoin="round" />
<path d="M 683.4 401.2 L 707.7 399.6 L 706.1 427.1" fill="none" stroke="#b9bebe" stroke-width="0.85" stroke-linejoin="round" />
<path d="M 693.1 391.5 C 698.0 393.1 702.8 386.6 711.7 383.4" fill="none" stroke="#b9bebe" stroke-width="0.85" stroke-linejoin="round" />
<path d="M 701.2 401.2 C 702.8 394.7 707.7 388.3 711.7 385.8" fill="none" stroke="#b9bebe" stroke-width="0.85" stroke-linejoin="round" />
<path d="M 678.6 406.1 L 680.5 427.1" fill="none" stroke="#b9bebe" stroke-width="0.85" stroke-linejoin="round" />
<path d="M 664.8 420.6 L 666.4 427.1 M 670.5 419.8 L 671.3 427.1 M 676.1 419.0 L 676.9 427.1" fill="none" stroke="#b9bebe" stroke-width="0.85" stroke-linejoin="round" />
<path d="M 707.7 410.9 L 711.7 410.9 L 711.7 418.2 L 707.7 418.2" fill="none" stroke="#b9bebe" stroke-width="0.85" stroke-linejoin="round" />
<circle cx="647.8" cy="385.8" r="2.6" fill="none" stroke="#b0b5b5" stroke-width="0.7"/>
<circle cx="657.8" cy="386.3" r="2" fill="none" stroke="#b0b5b5" stroke-width="0.7"/>
<circle cx="672.4" cy="415.0" r="1" fill="#999"/>
<circle cx="710.1" cy="413.8" r="1" fill="#999"/>
<linearGradient id="wg1" gradientUnits="userSpaceOnUse" x1="749" y1="356.7" x2="688" y2="390"><stop offset="0" stop-color="#ff1ee6" stop-opacity="0.35"/><stop offset="0.3" stop-color="#ff1ee6" stop-opacity="1"/></linearGradient>
<linearGradient id="wg2" gradientUnits="userSpaceOnUse" x1="792.2" y1="364" x2="832" y2="389"><stop offset="0" stop-color="#ff1ee6" stop-opacity="0.35"/><stop offset="0.3" stop-color="#ff1ee6" stop-opacity="1"/></linearGradient>
<path d="M 749.0 356.7 L 686.6 386.6 L 690.7 393.4 Z" fill="url(#wg1)" stroke="none" stroke-width="0.85" stroke-linejoin="round" />
<path d="M 664.8 368.0 L 662.4 376.4 L 674.8 373.7 Z" fill="#ff1ee6" stroke="none" stroke-width="0.85" stroke-linejoin="round" />
<path d="M 668.5 376.6 L 672.4 375.6 L 673.4 378.2 L 669.8 379.2 Z" fill="#ff1ee6" stroke="none" stroke-width="0.85" stroke-linejoin="round" />
<path d="M 670.5 381.0 L 674.3 380.0 L 675.5 382.8 L 671.8 383.7 Z" fill="#ff1ee6" stroke="none" stroke-width="0.85" stroke-linejoin="round" />
<path d="M 672.7 385.8 L 676.6 384.9 L 677.7 387.6 L 674.0 388.6 Z" fill="#ff1ee6" stroke="none" stroke-width="0.85" stroke-linejoin="round" />
<path d="M 674.8 390.2 L 677.7 389.6 L 678.4 391.2 L 675.5 391.8 Z" fill="#ff1ee6" stroke="none" stroke-width="0.85" stroke-linejoin="round" />
<path d="M 675.3 395.1 L 680.2 393.9 L 683.7 404.4 L 679.5 405.4 L 678.6 398.8 L 676.0 398.0 Z" fill="#ff1ee6" stroke="#8a3a80" stroke-width="0.5" stroke-linejoin="round" />
<path d="M 792.2 364.0 L 835.9 387.9 L 826.2 390.7 Z" fill="url(#wg2)" stroke="none" stroke-width="0.85" stroke-linejoin="round" />
<path d="M 819.7 393.4 L 817.8 402.8 L 823.0 402.0 L 826.2 409.3 L 829.8 407.7 L 825.9 401.2 L 828.6 399.9 Z" fill="#ff1ee6" stroke="none" stroke-width="0.85" stroke-linejoin="round" />
<path d="M 829.8 410.6 L 832.4 409.6 L 833.3 411.9 L 831.1 412.9 Z M 833.3 413.8 L 834.9 413.2 L 835.6 415.1 L 834.0 415.8 Z" fill="#ff1ee6" stroke="none" stroke-width="0.85" stroke-linejoin="round" />
<path d="M 797.9 404.4 C 803.6 401.2 808.4 406.1 813.3 410.9 C 816.5 414.2 823.0 413.3 826.2 412.9 L 863.4 407.4" fill="none" stroke="#b0b5b5" stroke-width="0.8" stroke-linejoin="round" />
<path d="M 798.7 402.0 C 805.2 399.6 810.0 404.4 814.9 409.6" fill="none" stroke="#b0b5b5" stroke-width="0.8" stroke-linejoin="round" />
<path d="M 811.3 414.2 L 811.3 427.1" fill="none" stroke="#b0b5b5" stroke-width="0.8" stroke-linejoin="round" />
<path d="M 863.4 407.4 C 865.1 399.6 873.1 393.1 880.4 389.1 L 882.9 373.7" fill="none" stroke="#b0b5b5" stroke-width="0.8" stroke-linejoin="round" />
<path d="M 865.1 420.6 C 865.9 406.1 874.0 396.4 880.9 392.3 L 882.9 388.3" fill="none" stroke="#b0b5b5" stroke-width="0.8" stroke-linejoin="round" />
<path d="M 874.0 418.2 C 874.8 407.7 878.0 401.2 882.0 398.0 L 883.2 374.0" fill="none" stroke="#b0b5b5" stroke-width="0.8" stroke-linejoin="round" />
<path d="M 876.4 418.2 C 876.7 409.3 879.3 403.6 882.9 400.4" fill="none" stroke="#b0b5b5" stroke-width="0.8" stroke-linejoin="round" />
<path d="M 822.2 414.2 C 826.2 418.7 839.2 419.0 847.2 414.2 C 849.7 412.2 848.9 410.1 845.6 410.9" fill="none" stroke="#444" stroke-width="1" stroke-linejoin="round" />
<path d="M 824.6 414.2 C 831.1 416.6 839.2 415.8 845.6 411.7" fill="none" stroke="#777" stroke-width="0.7" stroke-linejoin="round" />
</g>
</svg>
<div class="t bd" style="left:55.6px;top:33.50px;font-size:14px;line-height:19px;">70</div>
<div class="t ttl" style="left:85.5px;top:80.50px;font-size:21.9px;line-height:30px;">Individuellt baksäte på</div>
<div class="t ttl" style="left:85.5px;top:103.50px;font-size:21.9px;line-height:30px;">skenor</div>
<div class="t bd" style="left:161.1px;top:142.50px;font-size:11.75px;line-height:16px;">PROACE VERSO</div>
<div class="t" style="left:85.5px;top:188.50px;font-size:11.75px;line-height:16px;">De olika utrustningarna och inställningarna som</div>
<div class="t" style="left:85.5px;top:204.50px;font-size:11.75px;line-height:16px;">beskrivs i den här instruktionsboken varierar</div>
<div class="t" style="left:85.5px;top:219.50px;font-size:11.75px;line-height:16px;">enligt bilens version och utförande.</div>
<div class="t" style="left:85.5px;top:376.50px;font-size:11.75px;line-height:16px;">Det individuella sätet är utrustat med</div>
<div class="t" style="left:85.5px;top:392.50px;font-size:11.75px;line-height:16px;">trepunktsbälte med upprullningsanordning.</div>
<div class="t" style="left:85.5px;top:408.50px;font-size:11.75px;line-height:16px;">Det kan placeras <b>framåtvänt</b> eller <b>bakåtvänt</b>.</div>
<div class="t ntc" style="left:127.2px;top:436.50px;font-size:14px;line-height:19px;">NOTICE</div>
<div class="t" style="left:93.5px;top:467.50px;font-size:11.75px;line-height:16px;">Om ett individuellt säte är framåtvänt i rad 2</div>
<div class="t" style="left:93.5px;top:483.50px;font-size:11.75px;line-height:16px;">får sätet i rad 1 (förare eller passagerare) inte</div>
<div class="t" style="left:93.5px;top:498.50px;font-size:11.75px;line-height:16px;">vara bakåtskjutet alltför långt i syfte att</div>
<div class="t" style="left:93.5px;top:514.50px;font-size:11.75px;line-height:16px;">undvika kontakt mellan de två sätena.</div>
<div class="t" style="left:93.5px;top:529.50px;font-size:11.75px;line-height:16px;">Det kan orsaka avsevärt slitage på delarna</div>
<div class="t" style="left:93.5px;top:545.50px;font-size:11.75px;line-height:16px;">som är i kontakt.</div>
<div class="t ntc" style="left:401.4px;top:90.50px;font-size:14px;line-height:19px;">NOTICE</div>
<div class="t" style="left:367.8px;top:121.50px;font-size:11.75px;line-height:16px;">För ytterligre information om</div>
<div class="t" style="left:367.8px;top:137.50px;font-size:11.75px;line-height:16px;"><b>Säkerhetsbälten</b>, se motsvarande avsnitt.</div>
<div class="t bd" style="left:358.9px;top:170.50px;font-size:18.75px;line-height:26px;">Armstöd</div>
<div class="t" style="left:359.8px;top:196.50px;font-size:11.75px;line-height:16px;">Armstödet förförsett med hack.</div>
<div class="t" style="left:360.4px;top:353.50px;font-size:11.75px;line-height:16px;"><span class="b">►</span>Dra upp armstödet så långt det går.</div>
<div class="t" style="left:360.4px;top:369.50px;font-size:11.75px;line-height:16px;"><span class="b">►</span>Sänk det så långt det går.</div>
<div class="t" style="left:360.4px;top:385.50px;font-size:11.75px;line-height:16px;"><span class="b">►</span>Höj armstödet till önskat läge.</div>
<div class="t bd" style="left:359.4px;top:407.50px;font-size:18.75px;line-height:26px;">Justera ryggstödets lutning</div>
<div class="t" style="left:359.8px;top:433.50px;font-size:11.75px;line-height:16px;">Ryggstödet kan ställas in i flera lägen.</div>
<div class="t" style="left:634.8px;top:251.50px;font-size:11.75px;line-height:16px;"><span class="b">►</span>Dra reglaget uppåt (bakifrån, sänk handtaget)</div>
<div class="t" style="left:634.1px;top:267.50px;font-size:11.75px;line-height:16px;">för att luta ryggstödet.</div>
<div class="t" style="left:634.8px;top:283.50px;font-size:11.75px;line-height:16px;"><span class="b">►</span>Lossa reglaget när du har nått önskat läge.</div>
<div class="t bd" style="left:634.1px;top:305.50px;font-size:18.75px;line-height:26px;">Flytta framåt eller bakåt</div>
<div class="t" style="left:634.3px;top:508.50px;font-size:11.75px;line-height:16px;">Det finns två reglage för att skjuta sätet framåt</div>
<div class="t" style="left:634.3px;top:524.50px;font-size:11.75px;line-height:16px;">och bakåt.</div>
<div class="t" style="left:634.3px;top:540.50px;font-size:11.75px;line-height:16px;"><span class="b">►</span>Bakifrån, dra i remmen utan att passera</div>
<div class="t" style="left:634.3px;top:555.50px;font-size:11.75px;line-height:16px;">motståndspunkten och tryck sätet framåt eller</div>
<div class="t" style="left:634.3px;top:571.50px;font-size:11.75px;line-height:16px;">dra det bakåt.</div>
<div class="t wm" style="left:680.4px;top:615.00px;font-size:25.3px;line-height:34px;letter-spacing:0.9px;">carmanualsonline.info</div>
</body></html>
